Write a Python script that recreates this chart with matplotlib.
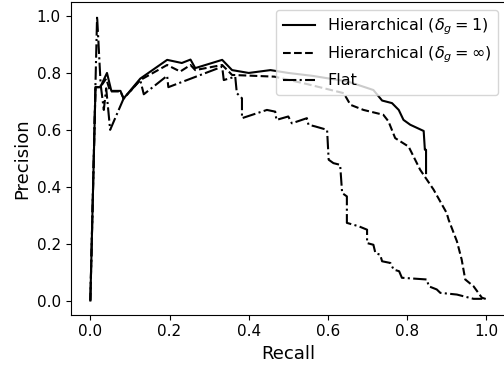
import matplotlib
matplotlib.use("Agg")
import matplotlib.pyplot as plt

# precision / recall
recall_h1 = [0, 0.013, 0.025, 0.042, 0.053, 0.076, 0.084, 0.126, 0.194, 0.231,
             0.253, 0.265, 0.333, 0.358, 0.40, 0.455, 0.50, 0.56, 0.65, 0.715,
             0.737, 0.762, 0.779, 0.791, 0.808, 0.842, 0.845, 0.848, 0.848]
prec_h1 = [0, 0.75, 0.75, 0.80, 0.737, 0.737, 0.71, 0.78, 0.846, 0.835,
           0.847, 0.817, 0.846, 0.81, 0.80, 0.81, 0.80, 0.79, 0.77, 0.74,
           0.703, 0.694, 0.67, 0.635, 0.618, 0.596, 0.53, 0.53, 0.448]

recall_hinf = [0, 0.013, 0.025, 0.04, 0.05, 0.076, 0.084, 0.126, 0.194, 0.227,
               0.253, 0.265, 0.333, 0.358, 0.465, 0.55, 0.64, 0.657, 0.69, 0.74,
               0.753, 0.77, 0.804, 0.833, 0.867, 0.9, 0.905, 0.926, 0.938, 0.947,
               0.968, 0.989, 1.0]
prec_hinf = [0, 0.75, 0.75, 0.78, 0.735, 0.735, 0.71, 0.775, 0.828, 0.805,
             0.828, 0.81, 0.828, 0.793, 0.787, 0.76, 0.729, 0.688, 0.67, 0.653,
             0.63, 0.571, 0.541, 0.46, 0.39, 0.308, 0.284, 0.208, 0.144, 0.074,
             0.05, 0.01, 0.005]

recall_flat = [0, 0.017, 0.026, 0.034, 0.04, 0.05, 0.084, 0.126, 0.135, 0.194,
               0.197, 0.333, 0.337, 0.366, 0.37, 0.383, 0.383, 0.446, 0.467, 0.47,
               0.50, 0.509, 0.547, 0.551, 0.568, 0.598, 0.602, 0.614, 0.631, 0.636,
               0.648, 0.648, 0.678, 0.699, 0.699, 0.715, 0.72, 0.732, 0.737, 0.758,
               0.766, 0.78, 0.787, 0.85, 0.855, 0.875, 0.884, 0.926, 0.968, 0.99]
prec_flat = [0, 1.0, 0.76, 0.67, 0.746, 0.6, 0.71, 0.775, 0.725, 0.79,
             0.75, 0.822, 0.775, 0.787, 0.729, 0.711, 0.641, 0.67, 0.664, 0.635,
             0.647, 0.623, 0.641, 0.618, 0.612, 0.6, 0.495, 0.483, 0.477, 0.378,
             0.366, 0.273, 0.261, 0.249, 0.202, 0.196, 0.167, 0.161, 0.138, 0.132,
             0.109, 0.103, 0.08, 0.074, 0.05, 0.039, 0.027, 0.021, 0.006, 0.006]

fig = plt.figure(figsize=(5.04, 3.66), dpi=100)
ax = fig.add_axes([0.140, 0.140, 0.864, 0.855])

ax.plot(recall_h1, prec_h1, '-', color='k', label=r'Hierarchical ($\delta_g = 1$)')
ax.plot(recall_hinf, prec_hinf, '--', color='k', label=r'Hierarchical ($\delta_g = \infty$)')
ax.plot(recall_flat, prec_flat, '-.', color='k', label='Flat')

ax.set_xlim(-0.05, 1.05)
ax.set_ylim(-0.05, 1.05)
ax.set_xticks([0, 0.2, 0.4, 0.6, 0.8, 1.0])
ax.set_yticks([0, 0.2, 0.4, 0.6, 0.8, 1.0])
ax.tick_params(labelsize=11)
ax.set_xlabel("Recall", fontsize=13)
ax.set_ylabel("Precision", fontsize=13)
ax.legend(loc='upper right', fontsize=11.5)

fig.savefig("out.png", dpi=100)
